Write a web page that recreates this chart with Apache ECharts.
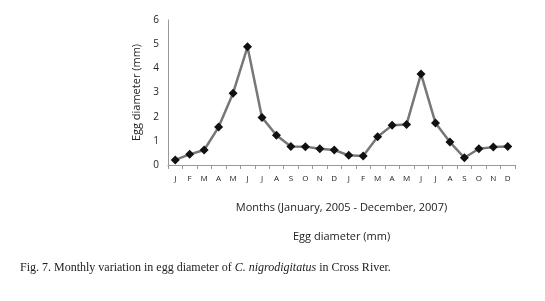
<!DOCTYPE html>
<html>
<head>
<meta charset="utf-8">
<script src="https://cdn.jsdelivr.net/npm/echarts@6/dist/echarts.min.js"></script>
<style>
html, body { margin: 0; padding: 0; background: #fff; }
#chart { width: 545px; height: 301px; }
</style>
</head>
<body>
<div id="chart"></div>
<script>
// month initials, Jan .. Dec over two years as plotted
var months = ['J','F','M','A','M','J','J','A','S','O','N','D',
	'J','F','M','A','M','J','J','A','S','O','N','D'];
// egg diameter (mm)
var eggDiameter = [0.21, 0.44, 0.62, 1.57, 2.97, 4.89, 1.97, 1.23, 0.77, 0.76, 0.67, 0.62,
	0.40, 0.37, 1.17, 1.64, 1.68, 3.77, 1.74, 0.95, 0.30, 0.67, 0.74, 0.77];
var yTicks = [0, 6, 1];

var chart = echarts.init(document.getElementById('chart'));
var option = {
	animation: false,
	grid: {
		left: 168,
		right: 30,
		top: 20,
		bottom: 136
	},
	xAxis: {
		type: 'category',
		data: months,
		boundaryGap: true,
		name: 'Months (January, 2005 - December, 2007)',
		nameLocation: 'middle',
		nameGap: 37,
		nameTextStyle: { fontFamily: 'Open Sans', fontSize: 11, color: '#222' },
		axisLine: { lineStyle: { color: '#999', width: 1 } },
		axisTick: { show: true, length: 4, lineStyle: { color: '#999' } },
		axisLabel: { fontFamily: 'Open Sans', fontSize: 8, color: '#222', margin: 10, interval: 0 }
	},
	yAxis: {
		type: 'value',
		min: yTicks[0],
		max: yTicks[1],
		interval: yTicks[2],
		name: 'Egg diameter (mm)',
		nameLocation: 'middle',
		nameGap: 24,
		nameTextStyle: { fontFamily: 'Open Sans', fontSize: 11, color: '#222' },
		axisLine: { show: true, lineStyle: { color: '#999', width: 1 } },
		axisTick: { show: false },
		splitLine: { show: false },
		axisLabel: { fontFamily: 'Open Sans', fontSize: 10, color: '#222', margin: 9 }
	},
	graphic: [
		{
			type: 'text',
			left: 293,
			top: 231,
			style: { text: 'Egg diameter (mm)', fontFamily: 'Open Sans', fontSize: 11, fill: '#222' }
		},
		{
			type: 'text',
			left: 20,
			top: 262,
			style: {
				rich: {
					n: { fontFamily: 'Liberation Serif', fontSize: 12, fill: '#222' },
					i: { fontFamily: 'Liberation Serif', fontSize: 12, fontStyle: 'italic', fill: '#222' }
				},
				text: '{n|Fig. 7. Monthly variation in egg diameter of }{i|C. nigrodigitatus}{n| in Cross River.}'
			}
		}
	],
	series: [{
		type: 'line',
		data: eggDiameter,
		symbol: 'diamond',
		symbolSize: 9,
		lineStyle: { color: '#777', width: 2.5 },
		itemStyle: { color: '#111' }
	}]
};
chart.setOption(option);
window.addEventListener('resize', chart.resize);
</script>
</body>
</html>
